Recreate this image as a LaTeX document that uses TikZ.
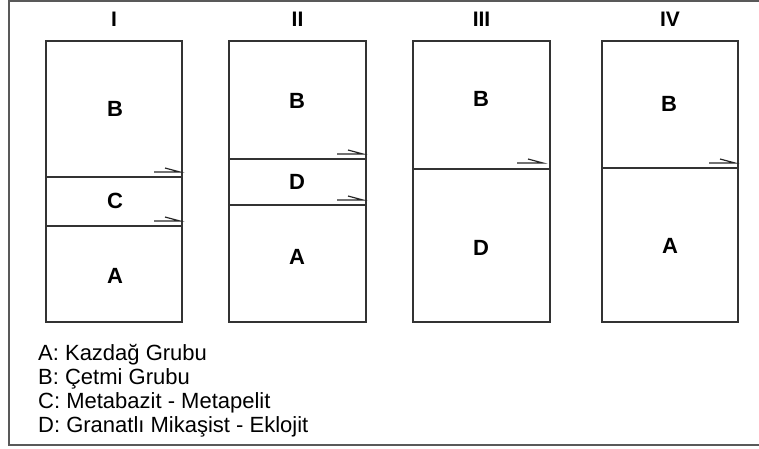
\documentclass[tikz,border=0pt]{standalone}
\usepackage{fontspec}
\setmainfont{Liberation Sans}
\newcommand\myharp[2]{\draw[harp] ({#1-26},#2) -- (#1,#2) -- ({#1-15},{#2-4});}
\begin{document}
\begin{tikzpicture}[x=1pt,y=-1pt,
  box/.style={draw=black!80,line width=1.4pt},
  head/.style={font=\bfseries\fontsize{21}{24}\selectfont},
  lab/.style={font=\bfseries\fontsize{22}{26}\selectfont},
  leg/.style={font=\fontsize{22}{26}\selectfont, anchor=base west, inner sep=0pt},
  harp/.style={line width=1.2pt, draw=black!85}]
\useasboundingbox (0,0) rectangle (759,448);
\draw[draw=black!65, line width=1.6pt] (9,1) rectangle (766,445);
% column I
\draw[box] (46,41) rectangle (182,322);
\draw[box] (46,177) -- (182,177);
\draw[box] (46,226) -- (182,226);
\myharp{180}{172}
\myharp{180}{221}
% column II
\draw[box] (229,41) rectangle (366,322);
\draw[box] (229,159) -- (366,159);
\draw[box] (229,205) -- (366,205);
\myharp{363}{154}
\myharp{363}{200}
% column III
\draw[box] (413,41) rectangle (550,322);
\draw[box] (413,169) -- (550,169);
\myharp{543}{163}
% column IV
\draw[box] (602,41) rectangle (738,322);
\draw[box] (602,168) -- (738,168);
\myharp{735}{163}
% headings
\node[head] (h1) at (114,19) {I};
\node[head] (h2) at (297.5,19) {II};
\node[head] (h3) at (481.5,19) {III};
\node[head] (h4) at (670,19) {IV};
% labels
\node[lab] (b1) at (115,109) {B};
\node[lab] (c1) at (115,201) {C};
\node[lab] (a1) at (115,276) {A};
\node[lab] (b2) at (297,101) {B};
\node[lab] (d2) at (297,182) {D};
\node[lab] (a2) at (297,257) {A};
\node[lab] (b3) at (481,99) {B};
\node[lab] (d3) at (481,248) {D};
\node[lab] (b4) at (669,104) {B};
\node[lab] (a4) at (670,246) {A};
% legend
\node[leg] (la) at (38,360) {A: Kazdağ Grubu};
\node[leg] (lb) at (38,384) {B: Çetmi Grubu};
\node[leg] (lc) at (38,408) {C: Metabazit - Metapelit};
\node[leg] (ld) at (38,432) {D: Granatlı Mikaşist - Eklojit};
\end{tikzpicture}
\end{document}
